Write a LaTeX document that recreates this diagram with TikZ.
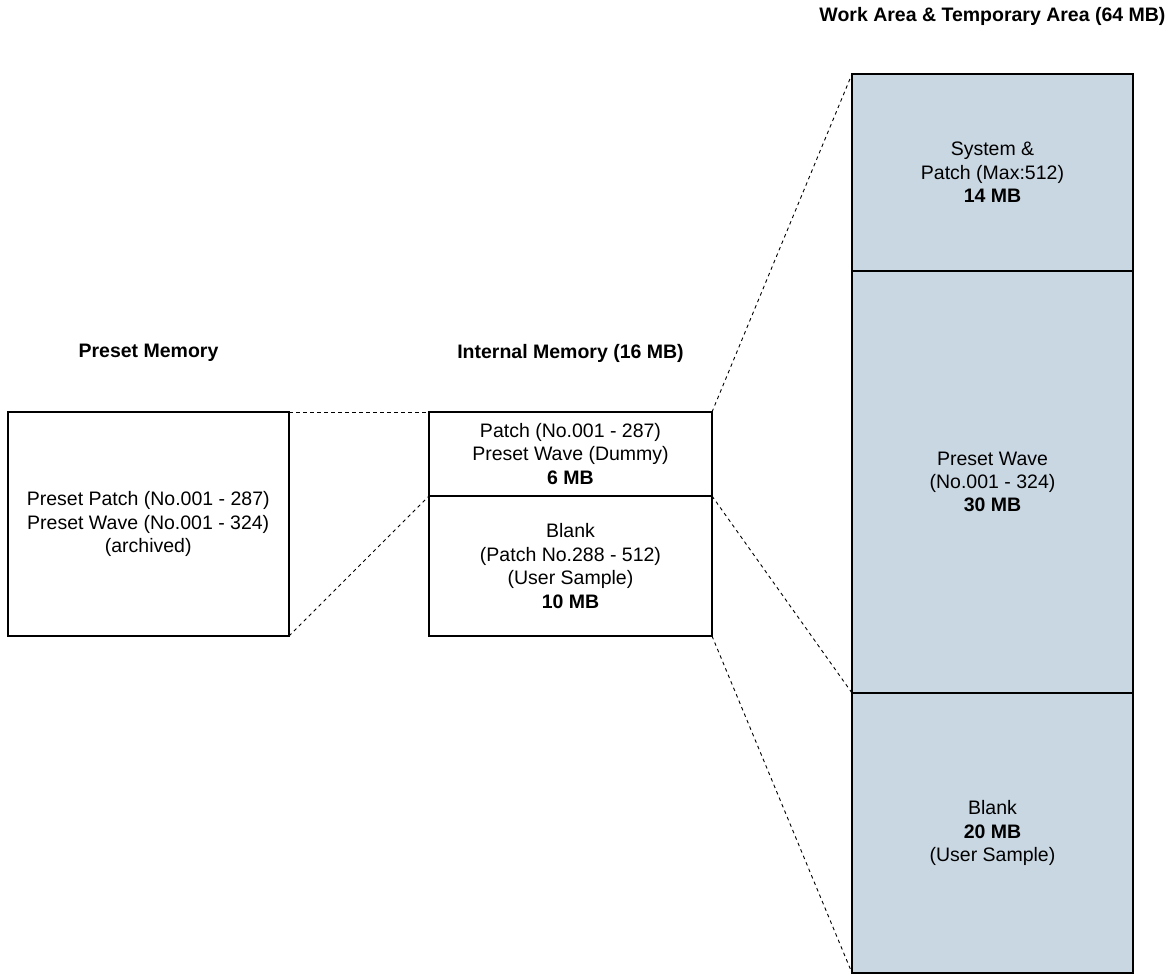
\documentclass[tikz,border=0pt]{standalone}
\usepackage{fontspec}
\setmainfont{Liberation Sans}
\definecolor{blockfill}{RGB}{201,215,227}
\begin{document}
\begin{tikzpicture}[x=1pt,y=-1pt,
  every node/.style={font=\fontsize{19.5}{23.4}\selectfont, align=center, inner sep=0pt, outer sep=0pt},
  memblock/.style={draw=black, line width=2pt, rectangle},
  workblock/.style={memblock, fill=blockfill},
  title/.style={font=\fontsize{19.5}{23.4}\selectfont\bfseries},
  link/.style={draw=black, line width=0.9pt, dash pattern=on 3.5pt off 3.5pt}]
\useasboundingbox (0,0) rectangle (1173,976);
% titles
\node[title] (tpm) at (148.5,353) {Preset Memory};
\node[title] (tim) at (570.5,353) {Internal Memory (16 MB)};
\node[title] (twa) at (992.5,16) {Work Area \& Temporary Area (64 MB)};
% preset memory
\node[memblock, minimum width=281.5pt, minimum height=224pt] (pm) at (148.25,524)
  {Preset Patch (No.001 - 287)\\ Preset Wave (No.001 - 324)\\(archived)};
% internal memory
\node[memblock, minimum width=283pt, minimum height=84pt] (imA) at (570.5,454)
  {Patch (No.001 - 287)\\Preset Wave (Dummy)\\\textbf{6 MB}};
\node[memblock, minimum width=283pt, minimum height=140pt] (imB) at (570.5,566)
  {Blank\\(Patch No.288 - 512)\\(User Sample)\\\textbf{10 MB}};
% work area
\node[workblock, minimum width=281pt, minimum height=197pt] (waA) at (992.5,172.5)
  {System \&\\Patch (Max:512)\\\textbf{14 MB}};
\node[workblock, minimum width=281pt, minimum height=422pt] (waB) at (992.5,482)
  {Preset Wave\\(No.001 - 324)\\\textbf{30 MB}};
\node[workblock, minimum width=281pt, minimum height=280pt] (waC) at (992.5,833)
  {Blank\\\textbf{20 MB}\\(User Sample)};
% redraw block outlines on top
\draw[line width=2pt] (waA.north west) rectangle (waC.south east);
\draw[line width=2pt] (waA.south west) -- (waA.south east);
\draw[line width=2pt] (waB.south west) -- (waB.south east);
% connectors
\draw[link] (pm.north east) -- (imA.north west);
\draw[link] (pm.south east) -- (imB.north west);
\draw[link] (imA.north east) -- (waA.north west);
\draw[link] (imB.north east) -- (waC.north west);
\draw[link] (imB.south east) -- (waC.south west);
\end{tikzpicture}
\end{document}
